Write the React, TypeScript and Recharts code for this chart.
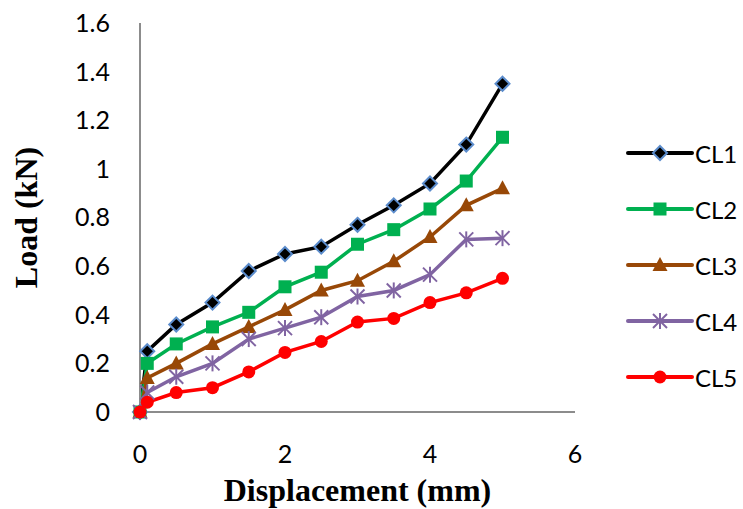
import React from 'react';
import { LineChart, Line, XAxis, YAxis } from 'recharts';

// displacement steps (mm)
const displacement = [0, 0.1, 0.5, 1, 1.5, 2, 2.5, 3, 3.5, 4, 4.5, 5];

// load (kN) per specimen
const cl1 = [0, 0.25, 0.36, 0.45, 0.58, 0.65, 0.68, 0.77, 0.85, 0.94, 1.1, 1.35];
const cl2 = [0, 0.2, 0.28, 0.35, 0.41, 0.515, 0.575, 0.69, 0.75, 0.835, 0.95, 1.13];
const cl3 = [0, 0.14, 0.2, 0.28, 0.35, 0.42, 0.5, 0.54, 0.62, 0.72, 0.85, 0.92];
const cl4 = [0, 0.08, 0.145, 0.2, 0.3, 0.345, 0.39, 0.475, 0.5, 0.565, 0.71, 0.715];
const cl5 = [0, 0.04, 0.08, 0.1, 0.165, 0.245, 0.29, 0.37, 0.385, 0.45, 0.49, 0.55];

const xTicks = [0, 2, 4, 6];
const yTicks = [0, 0.2, 0.4, 0.6, 0.8, 1, 1.2, 1.4, 1.6];

const data = displacement.map((x, i) => ({
    x,
    CL1: cl1[i],
    CL2: cl2[i],
    CL3: cl3[i],
    CL4: cl4[i],
    CL5: cl5[i],
}));

const TICK_FONT = 'Lato, "Liberation Sans", sans-serif';
const TITLE_FONT = '"Liberation Serif", serif';
const AXIS_GRAY = '#8c8c8c';

type MarkerKind = 'diamond' | 'square' | 'triangle' | 'star' | 'circle';

function Marker({ kind, cx, cy, color }: { kind: MarkerKind; cx: number; cy: number; color: string }) {
    if (cx == null || cy == null) return null;
    switch (kind) {
        case 'diamond':
            return (
                <polygon
                    points={`${cx},${cy - 7} ${cx + 7},${cy} ${cx},${cy + 7} ${cx - 7},${cy}`}
                    fill="#000"
                    stroke="#5b8ccc"
                    strokeWidth={2}
                />
            );
        case 'square':
            return <rect x={cx - 6.5} y={cy - 6.5} width={13} height={13} fill={color} />;
        case 'triangle':
            return <polygon points={`${cx},${cy - 8} ${cx + 7.5},${cy + 6} ${cx - 7.5},${cy + 6}`} fill={color} />;
        case 'star':
            return (
                <g stroke={color} strokeWidth={2}>
                    <line x1={cx - 7} y1={cy - 7} x2={cx + 7} y2={cy + 7} />
                    <line x1={cx - 7} y1={cy + 7} x2={cx + 7} y2={cy - 7} />
                    <line x1={cx} y1={cy - 8} x2={cx} y2={cy + 8} />
                </g>
            );
        default:
            return <circle cx={cx} cy={cy} r={6.5} fill={color} />;
    }
}

const SERIES: { key: string; color: string; kind: MarkerKind }[] = [
    { key: 'CL1', color: '#000000', kind: 'diamond' },
    { key: 'CL2', color: '#00b050', kind: 'square' },
    { key: 'CL3', color: '#984807', kind: 'triangle' },
    { key: 'CL4', color: '#8064a2', kind: 'star' },
    { key: 'CL5', color: '#ff0000', kind: 'circle' },
];

// legend sits outside the chart so it doesn't shrink the plot area
function LegendBox() {
    return (
        <div style={{ position: 'absolute', left: 626, top: 125 }}>
            {SERIES.map((s) => (
                <div key={s.key} style={{ display: 'flex', alignItems: 'center', height: 56 }}>
                    <svg width={68} height={24}>
                        <line x1={2} y1={12} x2={66} y2={12} stroke={s.color} strokeWidth={4} strokeLinecap="round" />
                        <Marker kind={s.kind} cx={34} cy={12} color={s.color} />
                    </svg>
                    <span style={{ fontFamily: TICK_FONT, fontSize: 24, color: '#000', marginLeft: 1 }}>{s.key}</span>
                </div>
            ))}
        </div>
    );
}

export default function App() {
    return (
        <div style={{ position: 'relative', width: 743, height: 509, background: '#fff' }}>
            <style>{'body{margin:0}'}</style>
            <LineChart width={743} height={509} data={data} margin={{ top: 23, right: 168, left: 0, bottom: 0 }}>
                <XAxis
                    dataKey="x"
                    type="number"
                    domain={[0, 6]}
                    ticks={xTicks}
                    height={97}
                    axisLine={{ stroke: AXIS_GRAY, strokeWidth: 2 }}
                    tickLine={false}
                    tickSize={0}
                    tickMargin={33}
                    tick={{ fill: '#000', fontSize: 25, fontFamily: TICK_FONT }}
                    label={{
                        value: 'Displacement (mm)',
                        position: 'insideBottom',
                        offset: 8,
                        style: { fill: '#000', fontSize: 32, fontWeight: 'bold', fontFamily: TITLE_FONT },
                    }}
                />
                <YAxis
                    type="number"
                    domain={[0, 1.6]}
                    ticks={yTicks}
                    width={140}
                    axisLine={{ stroke: AXIS_GRAY, strokeWidth: 2 }}
                    tickLine={false}
                    tickSize={0}
                    tickMargin={30}
                    tickFormatter={(v: number) => String(Math.round(v * 10) / 10)}
                    tick={{ fill: '#000', fontSize: 25, fontFamily: TICK_FONT }}
                    label={{
                        value: 'Load (kN)',
                        angle: -90,
                        position: 'insideLeft',
                        offset: 26,
                        style: { fill: '#000', fontSize: 32, fontWeight: 'bold', fontFamily: TITLE_FONT, textAnchor: 'middle' },
                    }}
                />
                {SERIES.map((s) => (
                    <Line
                        key={s.key}
                        dataKey={s.key}
                        stroke={s.color}
                        strokeWidth={3.5}
                        isAnimationActive={false}
                        dot={(p: any) => <Marker key={`${s.key}-${p.index}`} kind={s.kind} cx={p.cx} cy={p.cy} color={s.color} />}
                        activeDot={false}
                    />
                ))}
            </LineChart>
            <LegendBox />
        </div>
    );
}
